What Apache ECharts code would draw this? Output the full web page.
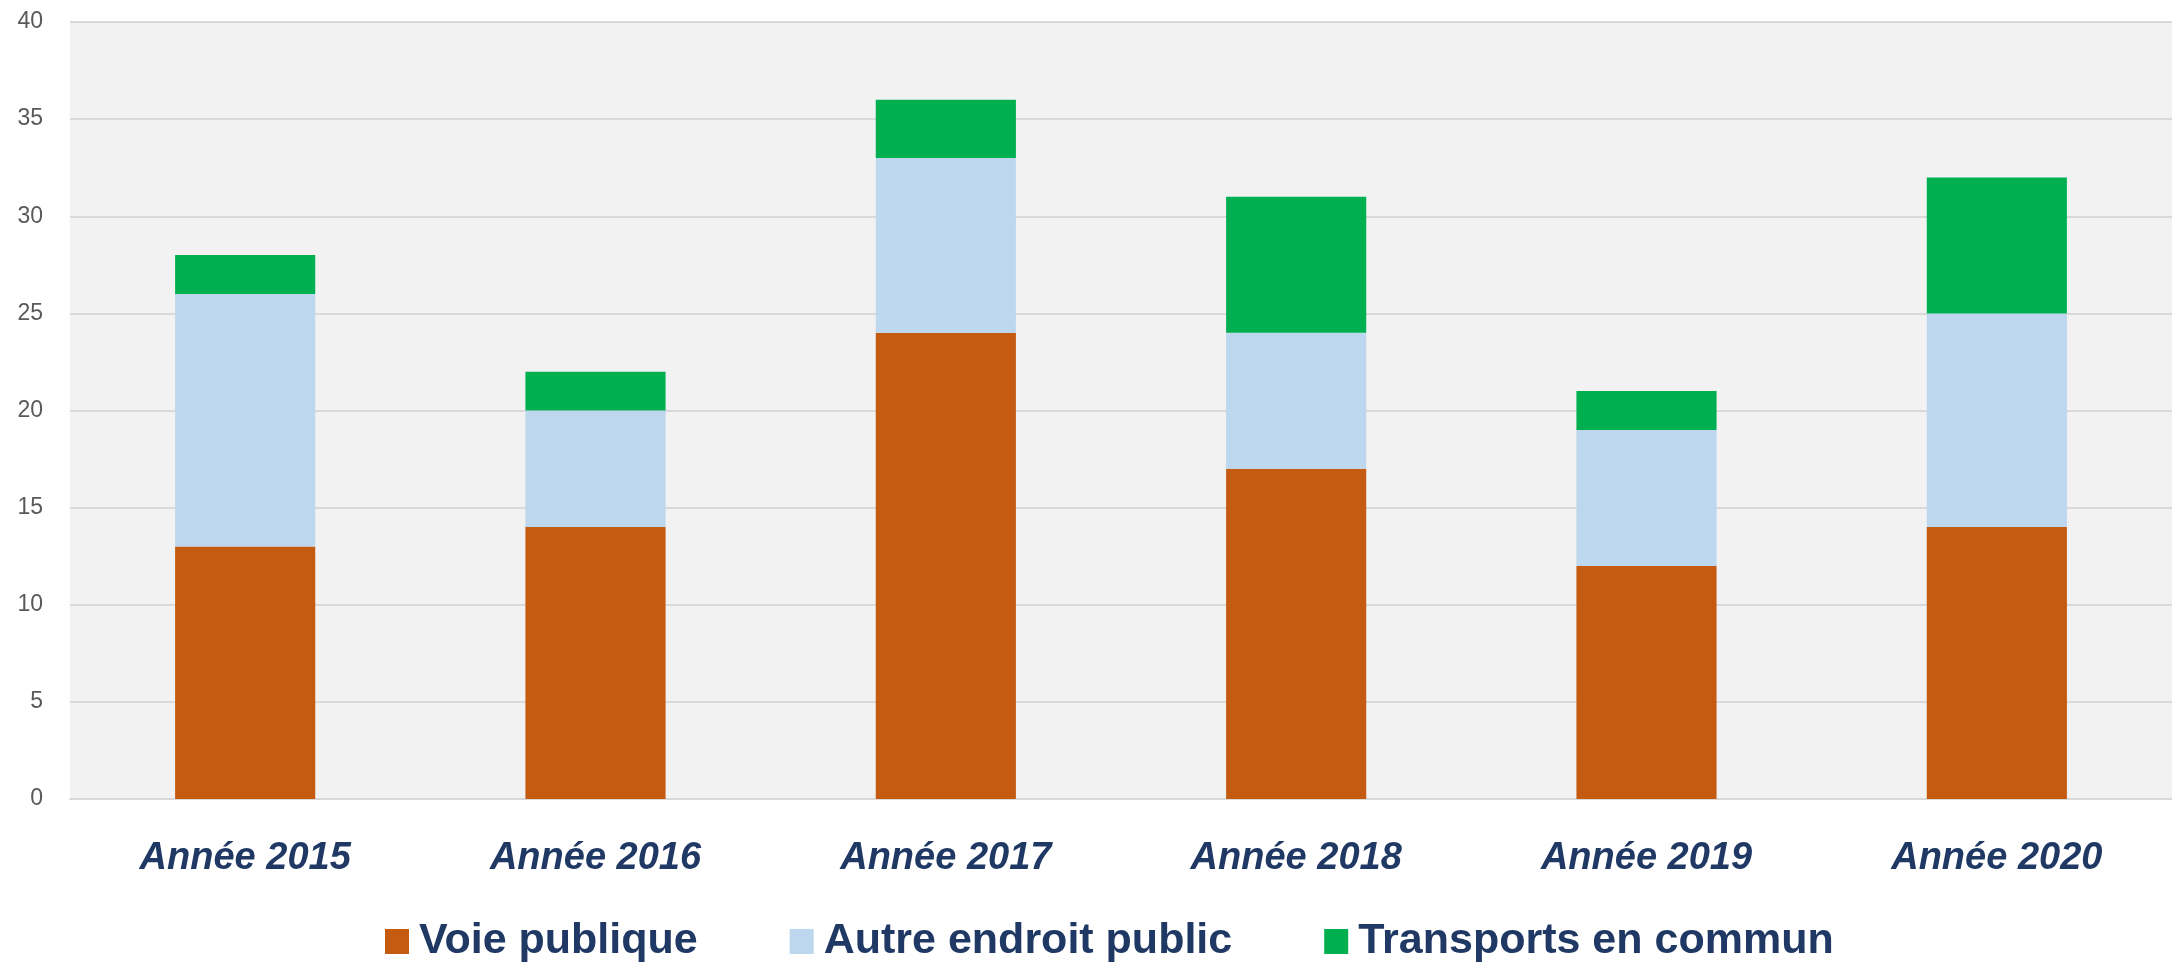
<!DOCTYPE html>
<html>
<head>
<meta charset="utf-8">
<script src="https://cdn.jsdelivr.net/npm/echarts@6/dist/echarts.min.js"></script>
<style>
  html, body { margin: 0; padding: 0; background: #fff; }
  #chart-container { width: 2172px; height: 964px; }
</style>
</head>
<body>
<div id="chart-container"></div>
<script>
var years = ['Année 2015', 'Année 2016', 'Année 2017', 'Année 2018', 'Année 2019', 'Année 2020'];
var voiePublique = [13, 14, 24, 17, 12, 14];
var autreEndroit = [13, 6, 9, 7, 7, 11];
var transports = [2, 2, 3, 7, 2, 7];
var yTicks = [0, 5, 10, 15, 20, 25, 30, 35, 40];

var dom = document.getElementById('chart-container');
var myChart = echarts.init(dom);
var option;

var navy = '#1F3864';

option = {
  animation: false,
  grid: {
    left: 70,
    right: 0,
    top: 22,
    bottom: 165,
    show: true,
    backgroundColor: '#F2F2F2',
    borderWidth: 0
  },
  legend: {
    left: 380,
    top: 915,
    itemWidth: 24,
    itemHeight: 25,
    itemGap: 92,
    icon: 'rect',
    textStyle: {
      fontFamily: 'Liberation Sans',
      fontWeight: 'bold',
      fontSize: 43,
      color: navy,
      padding: [0, 0, 0, 5]
    },
    data: ['Voie publique', 'Autre endroit public', 'Transports en commun']
  },
  xAxis: {
    type: 'category',
    data: years,
    axisLine: { lineStyle: { color: '#D9D9D9', width: 2 } },
    axisTick: { show: false },
    axisLabel: {
      margin: 41,
      fontFamily: 'Liberation Sans',
      fontWeight: 'bold',
      fontStyle: 'italic',
      fontSize: 38,
      color: navy
    }
  },
  yAxis: {
    type: 'value',
    min: yTicks[0],
    max: yTicks[yTicks.length - 1],
    interval: 5,
    axisLine: { show: false },
    axisTick: { show: false },
    splitLine: { lineStyle: { color: '#D9D9D9', width: 2 } },
    axisLabel: {
      margin: 27,
      fontFamily: 'Liberation Sans',
      fontSize: 23,
      color: '#595959'
    }
  },
  series: [
    {
      name: 'Voie publique',
      type: 'bar',
      stack: 'total',
      barWidth: '40%',
      itemStyle: { color: '#C55A11' },
      data: voiePublique
    },
    {
      name: 'Autre endroit public',
      type: 'bar',
      stack: 'total',
      itemStyle: { color: '#BDD7EE' },
      data: autreEndroit
    },
    {
      name: 'Transports en commun',
      type: 'bar',
      stack: 'total',
      itemStyle: { color: '#00B050' },
      data: transports
    }
  ]
};

if (option && typeof option === 'object') {
  myChart.setOption(option);
}

window.addEventListener('resize', myChart.resize);
</script>
</body>
</html>
